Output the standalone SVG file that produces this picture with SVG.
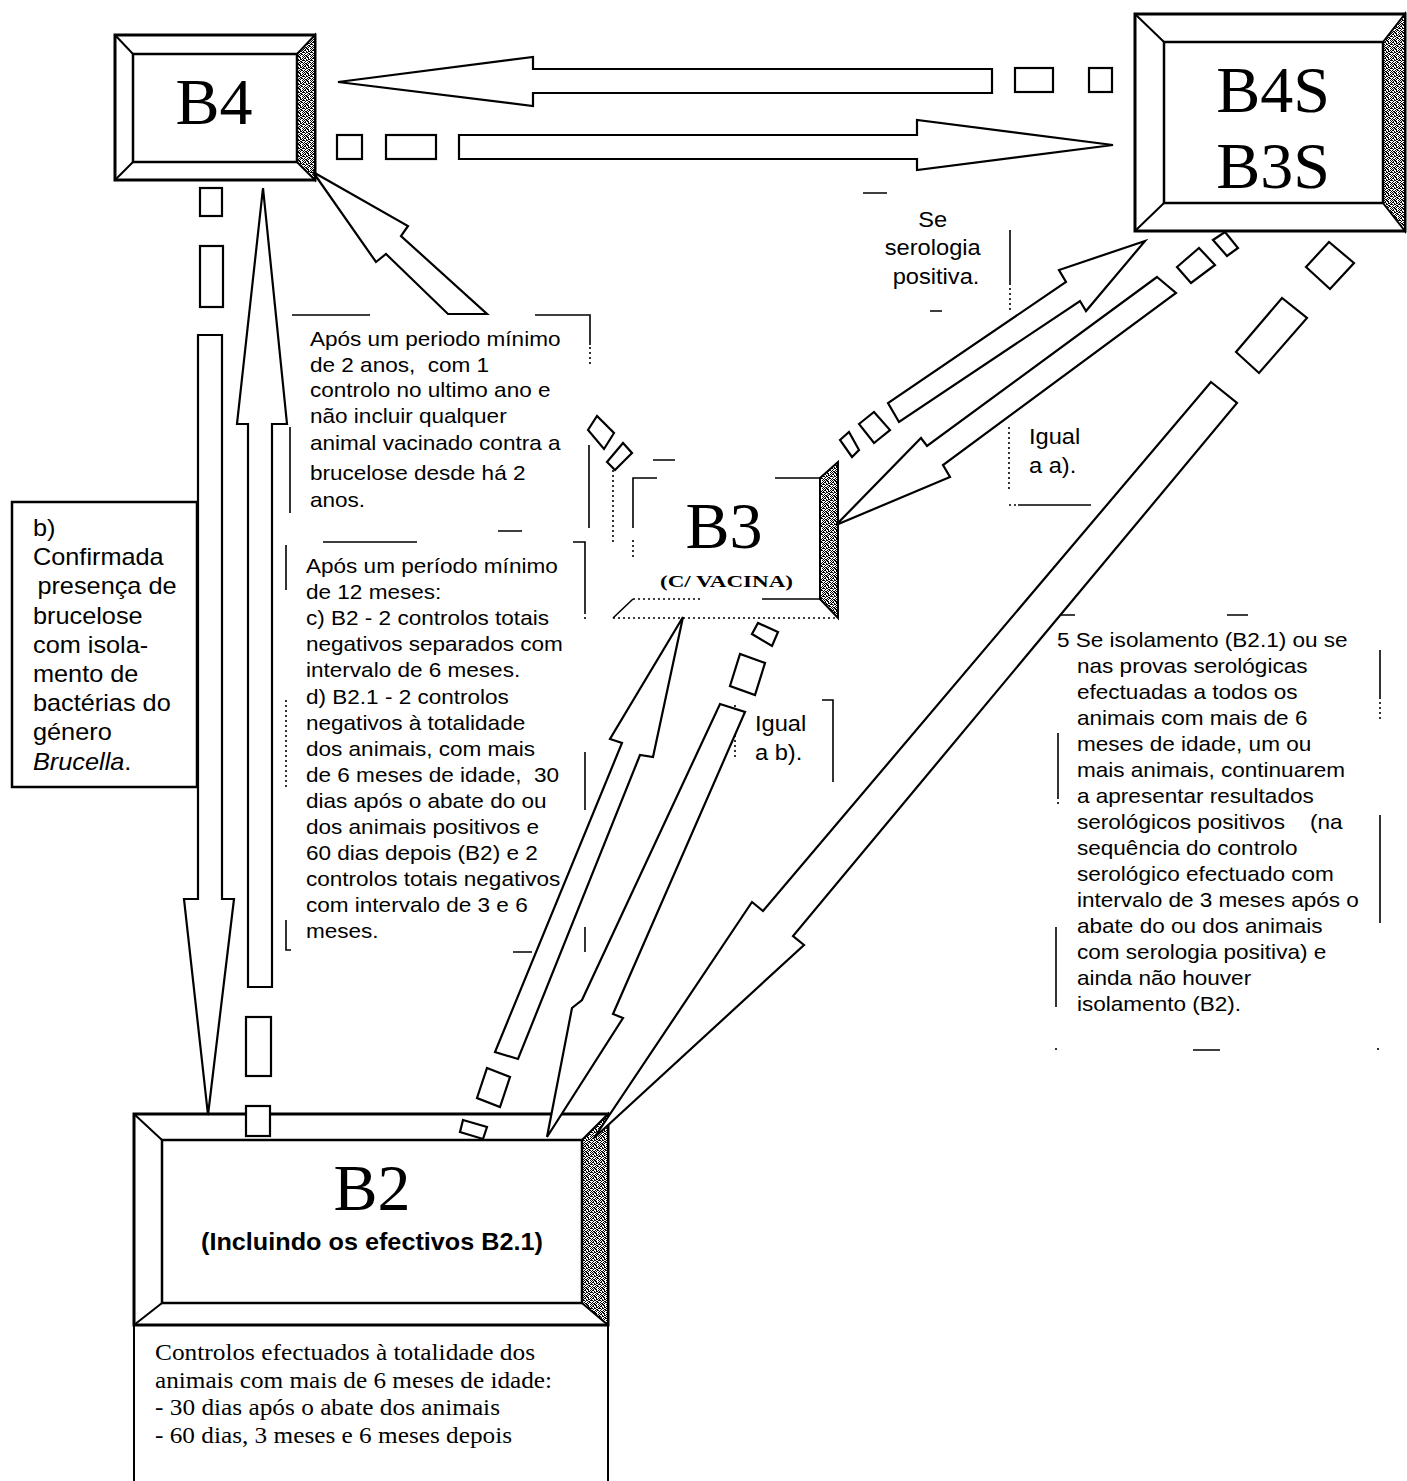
<svg xmlns="http://www.w3.org/2000/svg" width="1407" height="1481" viewBox="0 0 1407 1481">
<defs>
<pattern id="stip" width="8" height="8" patternUnits="userSpaceOnUse">
<rect width="8" height="8" fill="#fff"/>
<path fill="#000" d="M0 0h1v1h-1z M2 0h2v1h-2z M6 0h1v1h-1z M1 1h1v1h-1z M3 1h2v1h-2z M7 1h1v1h-1z M0 2h2v1h-2z M4 2h1v1h-1z M6 2h1v1h-1z M2 3h1v1h-1z M4 3h2v1h-2z M7 3h1v1h-1z M0 4h1v1h-1z M2 4h2v1h-2z M6 4h2v1h-2z M1 5h1v1h-1z M4 5h2v1h-2z M0 6h1v1h-1z M3 6h1v1h-1z M5 6h2v1h-2z M1 7h2v1h-2z M4 7h1v1h-1z M7 7h1v1h-1z"/>
</pattern>
<style>
.box{fill:#fff;stroke:#000;stroke-width:3}
.in{fill:none;stroke:#000;stroke-width:2.5}
.dg{stroke:#000;stroke-width:2}
.st{fill:url(#stip);stroke:#000;stroke-width:2}
.ar{fill:#fff;stroke:#000;stroke-width:2.2;stroke-linejoin:miter}
.fr{stroke:#000;stroke-width:1.6;fill:none}
.dt{stroke:#000;stroke-width:1.6;fill:none;stroke-dasharray:2 3}
.big{font-family:"Liberation Serif","Times New Roman",serif;font-size:66px;text-anchor:middle}
.sans{font-family:"Liberation Sans",Arial,Helvetica,sans-serif;font-size:20.5px;white-space:pre}
.lab{font-family:"Liberation Sans",Arial,Helvetica,sans-serif;font-size:21.5px}
.tm{font-family:"Liberation Serif","Times New Roman",serif;font-size:24px}
</style>
</defs>
<rect width="1407" height="1481" fill="#fff"/>

<g id="node-B4">
<rect class="box" x="115" y="35" width="200" height="145"/>
<polygon class="st" points="297,54 315,35 315,180 297,162"/>
<rect class="in" x="133" y="54" width="164" height="108"/>
<path class="dg" d="M115 35L133 54M115 180L133 162"/>
<text class="big" x="214" y="124">B4</text>
</g>

<g id="node-B4S-B3S">
<rect class="box" x="1135" y="14" width="270" height="217"/>
<polygon class="st" points="1383,42 1405,14 1405,231 1383,203"/>
<rect class="in" x="1164" y="42" width="219" height="161"/>
<path class="dg" d="M1135 14L1164 42M1135 231L1164 203"/>
<text class="big" x="1273" y="112">B4S</text>
<text class="big" x="1273" y="188">B3S</text>
</g>

<g id="node-B3">
<polygon class="st" points="820,478 838,462 838,618 820,599"/>
<path class="fr" d="M657 478H633V528 M775 478H820 M653 460H675 M762 599H820 M633 599L613 618"/>
<path class="dt" d="M633 599H700 M613 618H838 M633 540V560 M613 470V543"/>
<text class="big" x="724" y="548">B3</text>
<text x="660" y="587" textLength="133" lengthAdjust="spacingAndGlyphs" style="font-family:'Liberation Serif','Times New Roman',serif;font-size:17px;font-weight:bold">(C/ VACINA)</text>
</g>

<g id="node-B2">
<rect x="134" y="1325" width="474" height="170" fill="#fff" stroke="#000" stroke-width="2"/>
<rect class="box" x="134" y="1114" width="474" height="211"/>
<polygon class="st" points="582,1140 608,1114 608,1325 582,1303"/>
<rect class="in" x="162" y="1140" width="420" height="163"/>
<path class="dg" d="M134 1114L162 1140M134 1325L162 1303"/>
<text class="big" x="372" y="1210">B2</text>
<text x="372" y="1250" text-anchor="middle" textLength="342" lengthAdjust="spacingAndGlyphs" style="font-family:'Liberation Sans',Arial,sans-serif;font-size:24px;font-weight:bold">(Incluindo os efectivos B2.1)</text>
<text class="tm" x="155" y="1360" textLength="380" lengthAdjust="spacingAndGlyphs">Controlos efectuados à totalidade dos</text>
<text class="tm" x="155" y="1388" textLength="397" lengthAdjust="spacingAndGlyphs">animais com mais de 6 meses de idade:</text>
<text class="tm" x="155" y="1415" textLength="345" lengthAdjust="spacingAndGlyphs">- 30 dias após o abate dos animais</text>
<text class="tm" x="155" y="1443" textLength="357" lengthAdjust="spacingAndGlyphs">- 60 dias, 3 meses e 6 meses depois</text>
</g>

<g id="label-b">
<rect x="12" y="502" width="185" height="285" fill="#fff" stroke="#000" stroke-width="2.5"/>
<g transform="translate(33 0) scale(1.1 1)">
<text class="sans" style="font-size:23px">
<tspan x="0" y="536">b)</tspan>
<tspan x="0" y="565">Confirmada</tspan>
<tspan x="4" y="594">presença de</tspan>
<tspan x="0" y="624">brucelose</tspan>
<tspan x="0" y="653">com isola-</tspan>
<tspan x="0" y="682">mento de</tspan>
<tspan x="0" y="711">bactérias do</tspan>
<tspan x="0" y="740">género</tspan>
<tspan x="0" y="770"><tspan font-style="italic">Brucella</tspan>.</tspan>
</text>
</g>
</g>

<g id="label-2anos">
<path class="fr" d="M292 315H370 M535 315H590V345 M290 427V513 M498 531H522 M589 445V528"/>
<path class="dt" d="M590 347V364"/>
<g transform="translate(310 0) scale(1.1 1)">
<text class="sans">
<tspan x="0" y="346">Após um periodo mínimo</tspan>
<tspan x="0" y="372">de 2 anos,  com 1</tspan>
<tspan x="0" y="397">controlo no ultimo ano e</tspan>
<tspan x="0" y="423">não incluir qualquer</tspan>
<tspan x="0" y="450">animal vacinado contra a</tspan>
<tspan x="0" y="480">brucelose desde há 2</tspan>
<tspan x="0" y="507">anos.</tspan>
</text>
</g>
</g>

<g id="label-12meses">
<path class="fr" d="M323 542H417 M573 542H585V612 M286 545V590 M286 920V950H291 M585 752V810 M585 927V952 M513 952H532"/>
<path class="dt" d="M286 700V790 M585 612V622"/>
<g transform="translate(306 0) scale(1.1 1)">
<text class="sans">
<tspan x="0" y="573">Após um período mínimo</tspan>
<tspan x="0" y="599">de 12 meses:</tspan>
<tspan x="0" y="625">c) B2 - 2 controlos totais</tspan>
<tspan x="0" y="651">negativos separados com</tspan>
<tspan x="0" y="677">intervalo de 6 meses.</tspan>
<tspan x="0" y="704">d) B2.1 - 2 controlos</tspan>
<tspan x="0" y="730">negativos à totalidade</tspan>
<tspan x="0" y="756">dos animais, com mais</tspan>
<tspan x="0" y="782">de 6 meses de idade,  30</tspan>
<tspan x="0" y="808">dias após o abate do ou</tspan>
<tspan x="0" y="834">dos animais positivos e</tspan>
<tspan x="0" y="860">60 dias depois (B2) e 2</tspan>
<tspan x="0" y="886">controlos totais negativos</tspan>
<tspan x="0" y="912">com intervalo de 3 e 6</tspan>
<tspan x="0" y="938">meses.</tspan>
</text>
</g>
</g>

<g id="label-serologia">
<path class="fr" d="M863 193H887 M1010 230V283 M930 311H942"/>
<path class="dt" d="M1010 283V310"/>
<g transform="translate(936 0) scale(1.1 1)">
<text class="lab" text-anchor="middle">
<tspan x="0" y="227">Se</tspan>
<tspan x="0" y="255">serologia</tspan>
<tspan x="0" y="284">positiva.</tspan>
</text>
</g>
</g>

<g id="label-igual-a">
<path class="dt" d="M1009 427V490 M1009 505H1016"/>
<path class="fr" d="M1018 505H1091"/>
<g transform="translate(1029 0) scale(1.1 1)">
<text class="lab">
<tspan x="0" y="444">Igual</tspan>
<tspan x="0" y="473">a a).</tspan>
</text>
</g>
</g>

<g id="label-igual-b">
<path class="fr" d="M822 700H833V782"/>
<path class="dt" d="M735 705V757"/>
<g transform="translate(755 0) scale(1.1 1)">
<text class="lab">
<tspan x="0" y="731">Igual</tspan>
<tspan x="0" y="760">a b).</tspan>
</text>
</g>
</g>

<g id="label-isolamento">
<path class="fr" d="M1057 615H1075 M1227 615H1248 M1380 650V697 M1380 815V923 M1058 733V797 M1056 927V1007 M1193 1050H1220"/>
<path class="dt" d="M1380 697V722 M1058 797V805 M1056 1048V1052 M1378 1048V1052"/>
<g transform="translate(1057 0) scale(1.1 1)">
<text class="sans">
<tspan x="0" y="647">5 Se isolamento (B2.1) ou se</tspan>
<tspan x="18.2" y="673">nas provas serológicas</tspan>
<tspan x="18.2" y="699">efectuadas a todos os</tspan>
<tspan x="18.2" y="725">animais com mais de 6</tspan>
<tspan x="18.2" y="751">meses de idade, um ou</tspan>
<tspan x="18.2" y="777">mais animais, continuarem</tspan>
<tspan x="18.2" y="803">a apresentar resultados</tspan>
<tspan x="18.2" y="829">serológicos positivos    (na</tspan>
<tspan x="18.2" y="855">sequência do controlo</tspan>
<tspan x="18.2" y="881">serológico efectuado com</tspan>
<tspan x="18.2" y="907">intervalo de 3 meses após o</tspan>
<tspan x="18.2" y="933">abate do ou dos animais</tspan>
<tspan x="18.2" y="959">com serologia positiva) e</tspan>
<tspan x="18.2" y="985">ainda não houver</tspan>
<tspan x="18.2" y="1011">isolamento (B2).</tspan>
</text>
</g>
</g>

<g id="connectors">
<polygon class="ar" points="338,82 533,57 533,69 992,69 992,93 533,93 533,106"/>
<rect class="ar" x="1015" y="68" width="38" height="24"/>
<rect class="ar" x="1089" y="68" width="23" height="24"/>
<rect class="ar" x="337" y="135" width="25" height="24"/>
<rect class="ar" x="386" y="135" width="50" height="24"/>
<polygon class="ar" points="459,135 917,135 917,120 1113,145 917,170 917,159 459,159"/>
<rect class="ar" x="200" y="188" width="22" height="28"/>
<rect class="ar" x="200" y="246" width="23" height="61"/>
<polygon class="ar" points="198,335 222,335 222,899 234,899 208,1115 184,899 198,899"/>
<polygon class="ar" points="263,188 287,424 272,424 272,987 248,987 248,424 237,424"/>
<rect class="ar" x="246" y="1017" width="25" height="59"/>
<rect class="ar" x="246" y="1106" width="24" height="30"/>
<polygon class="ar" points="313,172 408,226 401,236 487,314 448,314 386,254 376,262"/>
<polygon class="ar" points="588,430 597,416 614,433 604,449"/>
<polygon class="ar" points="607,462 623,443 632,453 615,470"/>
<polygon class="ar" points="1145,241 1059,270 1066,282 888,403 899,422 1080,301 1086,311"/>
<polygon class="ar" points="859,424 874,412 890,430 874,443"/>
<polygon class="ar" points="840,440 849,432 859,450 852,457"/>
<polygon class="ar" points="1213,240 1225,232 1238,248 1227,256"/>
<polygon class="ar" points="1177,267 1199,248 1215,265 1191,283"/>
<polygon class="ar" points="1157,277 1176,293 943,465 950,477 836,525 921,438 927,446"/>
<polygon class="ar" points="1306,267 1329,242 1354,263 1330,289"/>
<polygon class="ar" points="1236,352 1282,298 1307,318 1259,373"/>
<polygon class="ar" points="1211,382 1237,403 793,936 804,945 594,1138 752,902 763,911"/>
<polygon class="ar" points="683,617 610,739 622,743 495,1052 518,1059 640,755 653,757"/>
<polygon class="ar" points="487,1068 510,1077 500,1107 477,1098"/>
<polygon class="ar" points="463,1120 487,1127 483,1139 460,1132"/>
<polygon class="ar" points="752,634 758,623 778,632 772,646"/>
<polygon class="ar" points="730,686 740,654 765,663 755,695"/>
<polygon class="ar" points="720,704 745,712 613,1014 623,1018 547,1137 572,1008 582,1000"/>
</g>
</svg>
